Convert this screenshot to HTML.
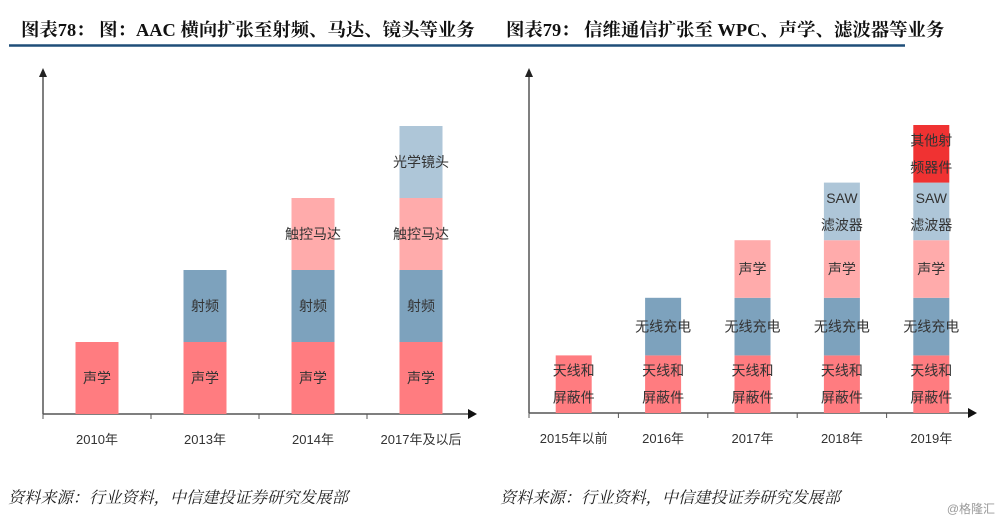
<!DOCTYPE html>
<html><head><meta charset="utf-8">
<style>
body{margin:0;width:1000px;height:522px;background:#fff;overflow:hidden;font-family:"Liberation Sans","Noto Sans CJK SC",sans-serif;}
svg{position:absolute;left:0;top:0}
</style></head>
<body>
<svg id="c" width="1000" height="522">
  <text x="21" y="36" font-size="18.4" font-weight="bold" fill="#111" font-family="Liberation Serif,Noto Serif CJK SC,serif">图表78：  图：AAC 横向扩张至射频、马达、镜头等业务</text>
  <text x="506" y="36" font-size="18.4" font-weight="bold" fill="#111" font-family="Liberation Serif,Noto Serif CJK SC,serif">图表79：  信维通信扩张至 WPC、声学、滤波器等业务</text>
  <line x1="9" y1="45.5" x2="905" y2="45.5" stroke="#1f4e79" stroke-width="2.5"/>
  <text x="8" y="503" font-size="16.2" font-style="italic" fill="#222" font-family="Liberation Serif,Noto Serif CJK SC,serif">资料来源：行业资料，中信建投证券研究发展部</text>
  <text x="500" y="503" font-size="16.2" font-style="italic" fill="#222" font-family="Liberation Serif,Noto Serif CJK SC,serif">资料来源：行业资料，中信建投证券研究发展部</text>
  <text x="995" y="513" font-size="12" fill="#999" text-anchor="end">@格隆汇</text>
  <g id="left"></g>
  <g id="right"></g>
</svg>
<script>
const leftCategories = ["2010年","2013年","2014年","2017年及以后"];
const leftSeriesNames = [["声学"],["射频"],["触控马达"],["光学镜头"]];
const leftAcoustic = [1,1,1,1];
const leftRF = [0,1,1,1];
const leftMotor = [0,0,1,1];
const leftLens = [0,0,0,1];

const rightCategories = ["2015年以前","2016年","2017年","2018年","2019年"];
const rightSeriesNames = [["天线和","屏蔽件"],["无线充电"],["声学"],["SAW","滤波器"],["其他射","频器件"]];
const rightAntenna = [1,1,1,1,1];
const rightWireless = [0,1,1,1,1];
const rightAcoustic = [0,0,1,1,1];
const rightSAW = [0,0,0,1,1];
const rightOtherRF = [0,0,0,0,1];

const NS="http://www.w3.org/2000/svg";
function mk(tag,attrs,parent){const e=document.createElementNS(NS,tag);for(const k in attrs)e.setAttribute(k,attrs[k]);parent.appendChild(e);return e;}

function drawChart(g,cfg){
  const n=cfg.cats.length, step=(cfg.x1-cfg.x0)/n;
  const xs=i=>cfg.x0+step*(i+0.5);
  const ys=v=>cfg.base-v*cfg.unit;
  let a=mk('line',{x1:cfg.x0,y1:cfg.base,x2:cfg.x0,y2:cfg.top+8,stroke:'#555','stroke-width':1.5},g);
  
  
  a=mk('polygon',{points:`${cfg.x0-4},${cfg.top+9} ${cfg.x0+4},${cfg.top+9} ${cfg.x0},${cfg.top}`,fill:'#222'},g);
  
  
  a=mk('line',{x1:cfg.x0,y1:cfg.base,x2:cfg.x1+cfg.ext-8,y2:cfg.base,stroke:'#555','stroke-width':1.5},g);
  
  
  a=mk('polygon',{points:`${cfg.x1+cfg.ext-9},${cfg.base-5} ${cfg.x1+cfg.ext-9},${cfg.base+5} ${cfg.x1+cfg.ext},${cfg.base}`,fill:'#111'},g);
  
  
  for(let i=0;i<n;i++){
    const tx=cfg.x0+step*i;
    a=mk('line',{x1:tx,y1:cfg.base,x2:tx,y2:cfg.base+5,stroke:'#555','stroke-width':1},g);
    
    
    const t=mk('text',{x:xs(i),y:cfg.base+30,'font-size':13,fill:'#333','text-anchor':'middle'},g);
    t.textContent=cfg.cats[i];
    
    
    let cum=0;
    cfg.series.forEach((s,si)=>{
      const v=s[i]; if(!v) return;
      const yTop=ys(cum+v), yBot=ys(cum);
      const r=mk('rect',{x:xs(i)-cfg.bw/2,y:yTop,width:cfg.bw,height:yBot-yTop,fill:cfg.colors[si]},g);
      
      
      const lines=cfg.names[si], mid=(yTop+yBot)/2, lh=cfg.lh;
      lines.forEach((ln,li)=>{
        const tt=mk('text',{x:xs(i),y:mid+(li-(lines.length-1)/2)*lh+5,'font-size':14,fill:'#333','text-anchor':'middle'},g);
        tt.textContent=ln;
        
        
      });
      cum+=v;
    });
  }
}
drawChart(document.getElementById('left'),{cats:leftCategories,series:[leftAcoustic,leftRF,leftMotor,leftLens],names:leftSeriesNames,
  colors:['#ff7c80','#7da2bd','#ffabab','#aec6d8'],x0:43,x1:475,ext:2,base:414,top:68,unit:72,bw:43,lh:26});
drawChart(document.getElementById('right'),{cats:rightCategories,series:[rightAntenna,rightWireless,rightAcoustic,rightSAW,rightOtherRF],names:rightSeriesNames,
  colors:['#ff7c80','#7da2bd','#ffabab','#aec6d8','#f03232'],x0:529,x1:976,ext:1,base:413,top:68,unit:57.6,bw:36,lh:27});
</script>
</body></html>
